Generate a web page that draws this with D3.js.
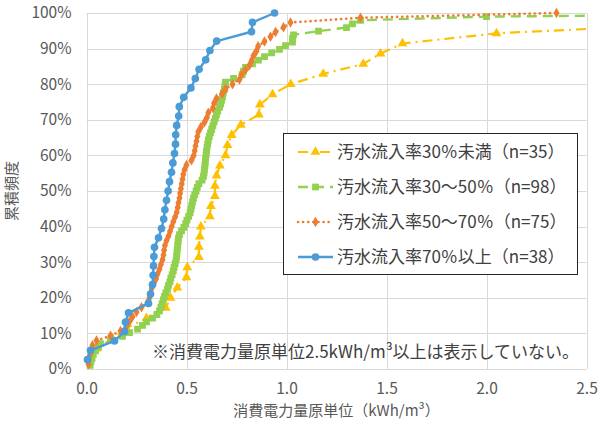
<!DOCTYPE html>
<html lang="ja">
<head>
<meta charset="utf-8">
<script src="https://cdn.jsdelivr.net/npm/d3@7"></script>
<style>
  html, body { margin: 0; padding: 0; background: #fff; }
  svg { display: block; font-family: "Noto Sans CJK JP", "Noto Sans", sans-serif; }
</style>
</head>
<body>
<svg id="chart" width="603" height="422"></svg>
<script>
// Sorted unit power consumption (kWh/m3) per plant, grouped by sewage inflow ratio.
// Cumulative frequency of the i-th value is (i+1)/n.
const seriesNames = [
  "汚水流入率30％未満（n=35）",
  "汚水流入率30～50％（n=98）",
  "汚水流入率50～70％（n=75）",
  "汚水流入率70％以上（n=38）"
];
const seriesN = [35, 98, 75, 38];

const below30X = [
  0.02, 0.05, 0.13, 0.20, 0.30, 0.396, 0.42, 0.454, 0.50, 0.504,
  0.562, 0.562, 0.567, 0.572, 0.617, 0.622, 0.642, 0.642, 0.65, 0.667,
  0.695, 0.705, 0.726, 0.772, 0.862, 0.867, 0.93, 1.021, 1.184, 1.384,
  1.47, 1.58, 2.05, 3.1, 4.0
];
const r30to50X = [
  0.018, 0.022, 0.028, 0.034, 0.045, 0.06, 0.07, 0.12, 0.18, 0.215,
  0.255, 0.28, 0.30, 0.33, 0.352, 0.365, 0.372, 0.378, 0.384, 0.39,
  0.397, 0.405, 0.41, 0.417, 0.422, 0.428, 0.434, 0.438, 0.443, 0.448,
  0.451, 0.452, 0.454, 0.456, 0.458, 0.46, 0.465, 0.475, 0.487, 0.496,
  0.502, 0.511, 0.518, 0.522, 0.526, 0.53, 0.535, 0.541, 0.548, 0.554,
  0.562, 0.578, 0.585, 0.588, 0.59, 0.592, 0.594, 0.596, 0.598, 0.60,
  0.603, 0.606, 0.609, 0.614, 0.62, 0.626, 0.632, 0.638, 0.644, 0.65,
  0.656, 0.665, 0.671, 0.676, 0.68, 0.684, 0.69, 0.692, 0.695, 0.735,
  0.778, 0.785, 0.795, 0.83, 0.86, 0.89, 0.926, 0.965, 0.995, 1.03,
  1.03, 1.035, 1.16, 1.30, 1.33, 1.37, 2.0, 4.0
];
const r50to70X = [
  0.01, 0.012, 0.018, 0.025, 0.03, 0.05, 0.12, 0.17, 0.20, 0.215,
  0.23, 0.25, 0.275, 0.305, 0.315, 0.32, 0.326, 0.335, 0.348, 0.355,
  0.365, 0.372, 0.38, 0.385, 0.388, 0.392, 0.40, 0.41, 0.418, 0.426,
  0.434, 0.443, 0.451, 0.456, 0.46, 0.465, 0.468, 0.472, 0.476, 0.48,
  0.484, 0.49, 0.50, 0.525, 0.536, 0.541, 0.545, 0.55, 0.554, 0.559,
  0.572, 0.59, 0.602, 0.609, 0.632, 0.638, 0.65, 0.678, 0.695, 0.73,
  0.765, 0.775, 0.795, 0.815, 0.826, 0.835, 0.85, 0.858, 0.89, 0.92,
  0.945, 0.985, 1.02, 1.37, 2.35
];
const over70X = [
  0.005, 0.02, 0.14, 0.19, 0.195, 0.21, 0.31, 0.32, 0.33, 0.333,
  0.335, 0.337, 0.34, 0.36, 0.375, 0.386, 0.392, 0.40, 0.408, 0.415,
  0.425, 0.432, 0.44, 0.445, 0.446, 0.451, 0.461, 0.464, 0.486, 0.522,
  0.544, 0.563, 0.596, 0.617, 0.651, 0.825, 0.83, 0.94
];

const xTickValues = [0, 0.5, 1.0, 1.5, 2.0, 2.5];
const yTickValues = [0, 0.1, 0.2, 0.3, 0.4, 0.5, 0.6, 0.7, 0.8, 0.9, 1.0];
const xTitle = "消費電力量原単位（kWh/m³）";
const yTitle = "累積頻度";
const noteText = "※消費電力量原単位2.5kWh/m³以上は表示していない。";

const seriesX = [below30X, r30to50X, r50to70X, over70X];
const styles = [
  { color: "#FFC000", dash: "10,5,2,5", cap: "butt", width: 2.2, symbol: d3.symbolTriangle, size: 42 },
  { color: "#92D050", dash: "10,6", cap: "butt", width: 2.4, symbol: d3.symbolSquare, size: 46 },
  { color: "#ED7D31", dash: "0.1,5", cap: "round", width: 2.6, symbol: d3.symbolDiamond, size: 32 },
  { color: "#4A9BD6", dash: null, cap: "butt", width: 2.4, symbol: d3.symbolCircle, size: 46 }
];

const svg = d3.select("#chart");
const plot = { left: 86.5, right: 586.5, top: 13, bottom: 369 };
const x = d3.scaleLinear().domain([0, 2.5]).range([plot.left, plot.right]);
const y = d3.scaleLinear().domain([0, 1]).range([plot.bottom, plot.top]);

// grid
const grid = svg.append("g");
grid.selectAll("line.h").data(yTickValues).join("line")
  .attr("x1", plot.left).attr("x2", plot.right)
  .attr("y1", d => Math.round(y(d)) + 0.5).attr("y2", d => Math.round(y(d)) + 0.5)
  .attr("stroke", "#d9d9d9").attr("stroke-width", 1);
grid.selectAll("line.v").data(xTickValues).join("line")
  .attr("y1", plot.top).attr("y2", plot.bottom)
  .attr("x1", d => Math.round(x(d)) + 0.5).attr("x2", d => Math.round(x(d)) + 0.5)
  .attr("stroke", "#d9d9d9").attr("stroke-width", 1);

// axis tick labels
const yAxis = d3.axisLeft(y).tickValues(yTickValues).tickSize(0).tickPadding(15)
  .tickFormat(d3.format(".0%"));
svg.append("g").attr("transform", `translate(${plot.left},0)`).call(yAxis)
  .call(g => g.select(".domain").remove())
  .call(g => g.selectAll("text").attr("fill", "#595959").style("font-size", "15.5px")
    .style("font-family", "'Noto Sans CJK JP', sans-serif"));

const xAxis = d3.axisBottom(x).tickValues(xTickValues).tickSize(0).tickPadding(14)
  .tickFormat(d3.format(".1f"));
svg.append("g").attr("transform", `translate(0,${plot.bottom})`).call(xAxis)
  .call(g => g.select(".domain").remove())
  .call(g => g.selectAll("text").attr("fill", "#595959").style("font-size", "15.5px")
    .style("font-family", "'Noto Sans CJK JP', sans-serif"));

svg.append("text").attr("x", (plot.left + plot.right) / 2).attr("y", 416)
  .attr("text-anchor", "middle").attr("fill", "#595959").style("font-size", "15px")
  .text(xTitle);

svg.append("text").attr("transform", `translate(17,${(plot.top + plot.bottom) / 2}) rotate(-90)`)
  .attr("text-anchor", "middle").attr("fill", "#595959").style("font-size", "15px")
  .text(yTitle);

// note
svg.append("text").attr("x", 152).attr("y", 358)
  .attr("fill", "#404040").style("font-size", "17px")
  .text(noteText);

// series
svg.append("defs").append("clipPath").attr("id", "plotClip")
  .append("rect").attr("x", plot.left - 6).attr("y", plot.top - 6)
  .attr("width", plot.right - plot.left + 6).attr("height", plot.bottom - plot.top + 12);

const line = d3.line().x(d => x(d.x)).y(d => y(d.y));
const seriesG = svg.append("g").attr("clip-path", "url(#plotClip)");

seriesX.forEach((xs, si) => {
  const st = styles[si];
  const pts = xs.map((v, i) => ({ x: v, y: (i + 1) / seriesN[si] }));
  const g = seriesG.append("g");
  g.append("path").datum(pts).attr("d", line)
    .attr("fill", "none").attr("stroke", st.color).attr("stroke-width", st.width)
    .attr("stroke-dasharray", st.dash).attr("stroke-linecap", st.cap)
    .attr("stroke-linejoin", "round");
  g.selectAll("path.m").data(pts.filter(p => p.x <= 2.5)).join("path")
    .attr("class", "m")
    .attr("transform", p => `translate(${x(p.x)},${y(p.y)})`)
    .attr("d", d3.symbol().type(st.symbol).size(st.size))
    .attr("fill", st.color);
});

// legend
const legend = svg.append("g");
legend.append("rect").attr("x", 283.5).attr("y", 133.5).attr("width", 294).attr("height", 141)
  .attr("fill", "#fff").attr("stroke", "#262626").attr("stroke-width", 1);
const legendRowY = [152, 187, 222, 257];
seriesNames.forEach((name, si) => {
  const st = styles[si];
  const ly = legendRowY[si];
  legend.append("line").attr("x1", 298).attr("x2", 333).attr("y1", ly).attr("y2", ly)
    .attr("stroke", st.color).attr("stroke-width", st.width)
    .attr("stroke-dasharray", st.dash).attr("stroke-linecap", st.cap);
  legend.append("path").attr("transform", `translate(315.5,${ly})`)
    .attr("d", d3.symbol().type(st.symbol).size(st.size)).attr("fill", st.color);
  legend.append("text").attr("x", 337).attr("y", ly).attr("dy", "0.36em")
    .attr("fill", "#404040").style("font-size", "17px").text(name);
});
</script>
</body>
</html>
